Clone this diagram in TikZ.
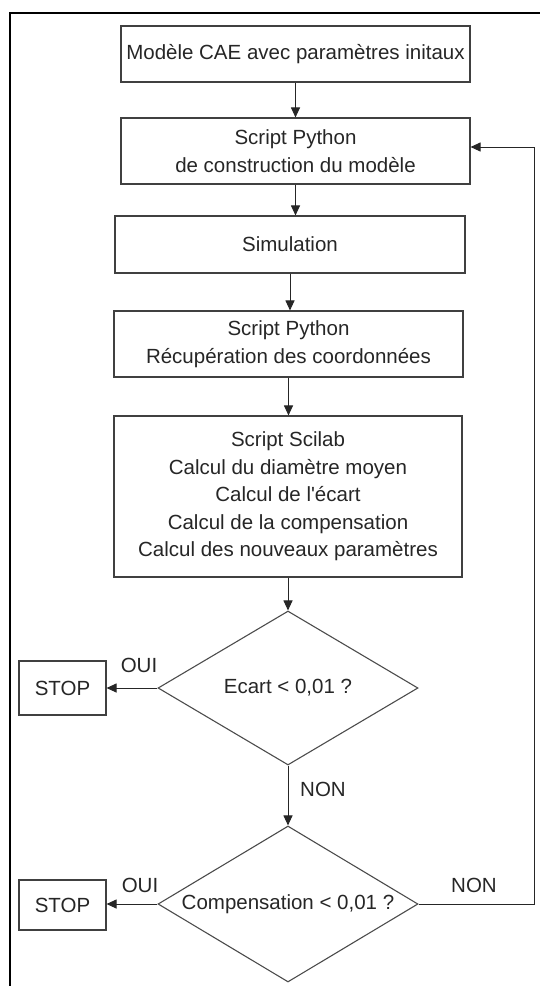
\documentclass[tikz,border=0pt]{standalone}
\usepackage{fontspec}
\setmainfont{Liberation Sans}
\usetikzlibrary{shapes.geometric,arrows.meta}
\begin{document}
\begin{tikzpicture}[x=1pt,y=-1pt,
  every node/.style={font=\fontsize{20.5}{27.5}\selectfont, text=black!85},
  procbox/.style={draw=black!75, line width=1.1pt, align=center, inner sep=0pt},
  decision/.style={draw=black!70, line width=1.1pt, diamond, inner sep=0pt},
  conn/.style={draw=black!85, line width=1pt, -{Triangle[length=10pt,width=9pt]}},
  plainconn/.style={draw=black!85, line width=1pt},
  frameline/.style={draw=black, line width=2.6pt},
  lbl/.style={inner sep=0pt}]
\useasboundingbox (0,0) rectangle (539,986);
\draw[frameline] (10,988) -- (10,13) -- (541,13);

\node[procbox, minimum width=349pt, minimum height=56pt] (b1) at (295.5,54) {Modèle CAE avec paramètres initaux};
\node[procbox, minimum width=349pt, minimum height=66pt] (b2) at (295.5,151) {Script Python\\de construction du modèle};
\node[procbox, minimum width=350pt, minimum height=57pt] (b3) at (290,244.5) {Simulation};
\node[procbox, minimum width=349pt, minimum height=66pt] (b4) at (288.5,344) {Script Python\\Récupération des coordonnées};
\node[procbox, minimum width=348pt, minimum height=161pt] (b5) at (288,496.5) {Script Scilab\\Calcul du diamètre moyen\\Calcul de l\textquotesingle écart\\Calcul de la compensation\\Calcul des nouveaux paramètres};

\node[decision, minimum width=260pt, minimum height=154pt] (d1) at (288,688) {\makebox[0pt]{Ecart < 0,01 ?}};
\node[decision, minimum width=260pt, minimum height=156pt] (d2) at (288,904) {\makebox[0pt]{Compensation < 0,01 ?}};

\node[procbox, minimum width=87pt, minimum height=54pt] (s1) at (62.5,688) {STOP};
\node[procbox, minimum width=87pt, minimum height=50pt] (s2) at (62.5,905) {STOP};

\draw[conn] (b1.south) -- (b1.south |- b2.north);
\draw[conn] (b2.south) -- (b2.south |- b3.north);
\draw[conn] (b3.south) -- (b3.south |- b4.north);
\draw[conn] (b4.south) -- (b4.south |- b5.north);
\draw[conn] (b5.south) -- (b5.south |- d1.north);
\draw[conn] (d1.south) -- (d2.north);
\draw[conn] (d1.west) -- (s1.east |- d1.west);
\draw[conn] (d2.west) -- (s2.east |- d2.west);

\coordinate (loopA) at (534,904);
\coordinate (loopB) at (534,147);
\draw[plainconn] (d2.east) -- (loopA) -- (loopB);
\draw[conn] (loopB) -- (b2.east |- loopB);

\node[lbl] (oui1) at (139,665) {OUI};
\node[lbl] (oui2) at (140,885) {OUI};
\node[lbl] (non1) at (323,789) {NON};
\node[lbl] (non2) at (474,885) {NON};
\end{tikzpicture}
\end{document}
